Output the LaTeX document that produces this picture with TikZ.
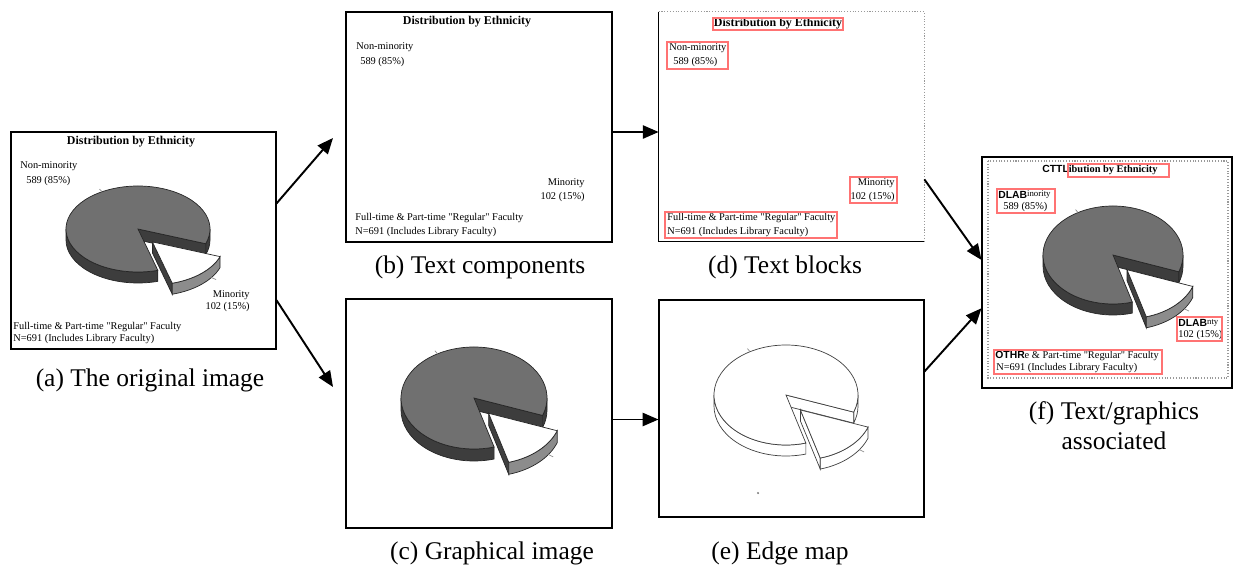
\documentclass[tikz,border=0pt]{standalone}
\usepackage{fontspec}
\setmainfont{Liberation Serif}
\newfontfamily\tagfont{Liberation Sans}
\usetikzlibrary{arrows.meta, calc, fit, positioning}

\tikzset{
    panel/.style={draw, line width=0.6pt, inner sep=0pt},
    dotframe/.style={draw=black!40, densely dotted, line width=0.6pt},
    sublabel/.style={font=\fontsize{14.5}{17}\selectfont, inner sep=0pt},
    chartlbl/.style={font=\fontsize{5.9}{7}\selectfont, inner sep=0pt},
    charttitle/.style={font=\fontsize{6.8}{8}\selectfont\bfseries, inner sep=0pt},
    textblock/.style={draw=red!55, line width=0.6pt},
    arrowline/.style={line width=1.1pt, -{Triangle[length=9pt, width=7.5pt]}},
    pietop/.style={fill=black!56, draw=black!85, line width=0.4pt},
    pieside/.style={fill=black!76, draw=black!85, line width=0.4pt},
    slicetop/.style={fill=white, draw=black!85, line width=0.4pt},
    slicerim/.style={fill=black!45, draw=black!85, line width=0.4pt},
    slicecut/.style={fill=black!75, draw=black!85, line width=0.4pt},
    pietick/.style={draw=black!45, line width=0.4pt}
}

\newcommand{\qq}{\textquotedbl}

% 3d pie: centre x, centre y, x radius, y radius, thickness
\newcommand{\drawpie}[5]{%
    \begin{scope}[shift={(#1,#2)}, xscale=#3, yscale=-#4]
        \pgfmathsetmacro{\pieth}{#5/#4}
        % sides of the large part
        \filldraw[pieside] (180:1) arc[start angle=180, end angle=286, radius=1]
            -- ++(0,-\pieth) arc[start angle=286, end angle=180, radius=1] -- cycle;
        \filldraw[pieside] (-20:1) arc[start angle=-20, end angle=0, radius=1]
            -- ++(0,-\pieth) arc[start angle=0, end angle=-20, radius=1] -- cycle;
        \filldraw[pieside] (0,0) -- (-20:1) -- ++(0,-\pieth) -- (0,-\pieth) -- cycle;
        \filldraw[pietop] (0,0) -- (-20:1) arc[start angle=-20, end angle=286, radius=1] -- cycle;
        \draw[pietick] (120:1) -- (120:1.07);
        % pulled out slice
        \begin{scope}[shift={(0.2,-0.3)}]
            \filldraw[slicecut] (0,0) -- (286:1) -- ++(0,-\pieth) -- (0,-\pieth) -- cycle;
            \filldraw[slicerim] (286:1) arc[start angle=286, end angle=340, radius=1]
                -- ++(0,-\pieth) arc[start angle=340, end angle=286, radius=1] -- cycle;
            \filldraw[slicetop] (0,0) -- (286:1) arc[start angle=286, end angle=340, radius=1] -- cycle;
            \draw[pietick] ($(-35:1)+(0,-\pieth)$) -- ++(-35:0.08);
        \end{scope}
    \end{scope}}

\begin{document}
\begin{tikzpicture}[x=0.02cm, y=-0.02cm]
    \useasboundingbox (0,0) rectangle (1236,565);

    % panels
    \node[panel, fit={(11,132) (276,349)}] (orig) {};
    \node[panel, fit={(346,12) (612,242)}] (txt) {};
    \node[panel, fit={(346,299) (612,528)}] (gra) {};
    \node[inner sep=0pt, fit={(659,12) (924,241)}] (blk) {};
    \node[panel, fit={(659,300) (924,517)}] (edg) {};
    \node[panel, fit={(982,157) (1232,388)}] (assoc) {};
    \draw[dotframe] (blk.north west) -- (blk.north east) -- (blk.south east);
    \draw[line width=0.6pt] (blk.north west) -- (blk.south west) -- (blk.south east);
    \draw[dotframe] (988,161) rectangle (1228,378);

    % (a) original
    \drawpie{138}{229}{72}{43}{11}
    \node[charttitle] (aTitle) at (131,142) {Distribution by Ethnicity};
    \node[chartlbl, anchor=west] (aNon) at (20,166) {Non-minority};
    \node[chartlbl, anchor=west] (aNonN) at (26,181) {589 (85\%)};
    \node[chartlbl, anchor=east] (aMin) at (250,295) {Minority};
    \node[chartlbl, anchor=east] (aMinN) at (250,307) {102 (15\%)};
    \node[chartlbl, anchor=west] (aFac) at (13,327) {Full-time \& Part-time \qq Regular\qq{} Faculty};
    \node[chartlbl, anchor=west] (aN) at (13,339) {N=691 (Includes Library Faculty)};

    % (b) text components
    \node[charttitle] (bTitle) at (467,22) {Distribution by Ethnicity};
    \node[chartlbl, anchor=west] (bNon) at (356,47) {Non-minority};
    \node[chartlbl, anchor=west] (bNonN) at (360,62) {589 (85\%)};
    \node[chartlbl, anchor=east] (bMin) at (585,183) {Minority};
    \node[chartlbl, anchor=east] (bMinN) at (585,197) {102 (15\%)};
    \node[chartlbl, anchor=west] (bFac) at (355,218) {Full-time \& Part-time \qq Regular\qq{} Faculty};
    \node[chartlbl, anchor=west] (bN) at (355,232) {N=691 (Includes Library Faculty)};

    % (c) graphics only
    \drawpie{474}{398}{73}{51}{12}

    % (d) text blocks
    \node[charttitle] (dTitle) at (778,24) {Distribution by Ethnicity};
    \node[chartlbl, anchor=west] (dNon) at (669,48) {Non-minority};
    \node[chartlbl, anchor=west] (dNonN) at (673,62) {589 (85\%)};
    \node[chartlbl, anchor=east] (dMin) at (895,183) {Minority};
    \node[chartlbl, anchor=east] (dMinN) at (895,197) {102 (15\%)};
    \node[chartlbl, anchor=west] (dFac) at (667,218) {Full-time \& Part-time \qq Regular\qq{} Faculty};
    \node[chartlbl, anchor=west] (dN) at (667,232) {N=691 (Includes Library Faculty)};
    \draw[textblock] (713,18) rectangle (843,30);
    \draw[textblock] (667,42) rectangle (728,69);
    \draw[textblock] (850,177) rectangle (897,203);
    \draw[textblock] (665,212) rectangle (837,238);

    % (e) edge map
    \begin{scope}[pietop/.style={fill=white, draw=black!75, line width=0.4pt},
                  pieside/.style={fill=white, draw=black!75, line width=0.4pt},
                  slicerim/.style={fill=white, draw=black!75, line width=0.4pt},
                  slicecut/.style={fill=white, draw=black!75, line width=0.4pt},
                  slicetop/.style={fill=white, draw=black!75, line width=0.4pt}]
        \drawpie{786}{395}{72}{50}{11}
    \end{scope}
    \fill[black!50] (758,493) circle[radius=0.7pt];

    % (f) associated
    \drawpie{1113}{255}{70}{49}{11}
    \node[chartlbl, anchor=west] (fTitle) at (1042,170) {{\tagfont\bfseries CTTL}\bfseries ibution by Ethnicity};
    \node[chartlbl, anchor=west] (fNon) at (998,195) {{\tagfont\bfseries DLAB}\raisebox{1pt}{\fontsize{5}{6}\selectfont inority}};
    \node[chartlbl, anchor=west] (fNonN) at (1003,207) {589 (85\%)};
    \node[chartlbl, anchor=west] (fMin) at (1178,323) {{\tagfont\bfseries DLAB}\raisebox{1pt}{\fontsize{5}{6}\selectfont nty}};
    \node[chartlbl, anchor=west] (fMinN) at (1178,335) {102 (15\%)};
    \node[chartlbl, anchor=west] (fFac) at (995,356) {{\tagfont\bfseries OTHR}e \& Part-time \qq Regular\qq{} Faculty};
    \node[chartlbl, anchor=west] (fN) at (996,368) {N=691 (Includes Library Faculty)};
    \draw[textblock] (1068,164) rectangle (1169,177);
    \draw[textblock] (997,189) rectangle (1055,213);
    \draw[textblock] (1177,317) rectangle (1222,341);
    \draw[textblock] (994,350) rectangle (1162,374);

    % captions
    \node[sublabel] (capA) at (150,380) {(a) The original image};
    \node[sublabel] (capB) at (480,267) {(b) Text components};
    \node[sublabel] (capC) at (492,553) {(c) Graphical image};
    \node[sublabel] (capD) at (785,267) {(d) Text blocks};
    \node[sublabel] (capE) at (780,553) {(e) Edge map};
    \node[sublabel, align=center] (capF) at (1114,426) {(f) Text/graphics\\associated};

    % arrows
    \coordinate (toTxt) at (333,138);
    \coordinate (toGra) at (333,387);
    \coordinate (fromTxt) at ($(txt.east)+(0,5)$);
    \coordinate (fromGra) at ($(gra.east)+(0,6)$);
    \draw[arrowline] ($(orig.north east)!0.33!(orig.south east)$) -- (toTxt);
    \draw[arrowline] ($(orig.north east)!0.774!(orig.south east)$) -- (toGra);
    \draw[arrowline] (fromTxt) -- (fromTxt -| blk.west);
    \draw[arrowline] (fromGra) -- (fromGra -| edg.west);
    \draw[arrowline] ($(blk.north east)!0.73!(blk.south east)$) -- ($(assoc.north west)!0.446!(assoc.south west)$);
    \draw[arrowline] ($(edg.north east)!0.33!(edg.south east)$) -- ($(assoc.north west)!0.654!(assoc.south west)$);
\end{tikzpicture}
\end{document}
